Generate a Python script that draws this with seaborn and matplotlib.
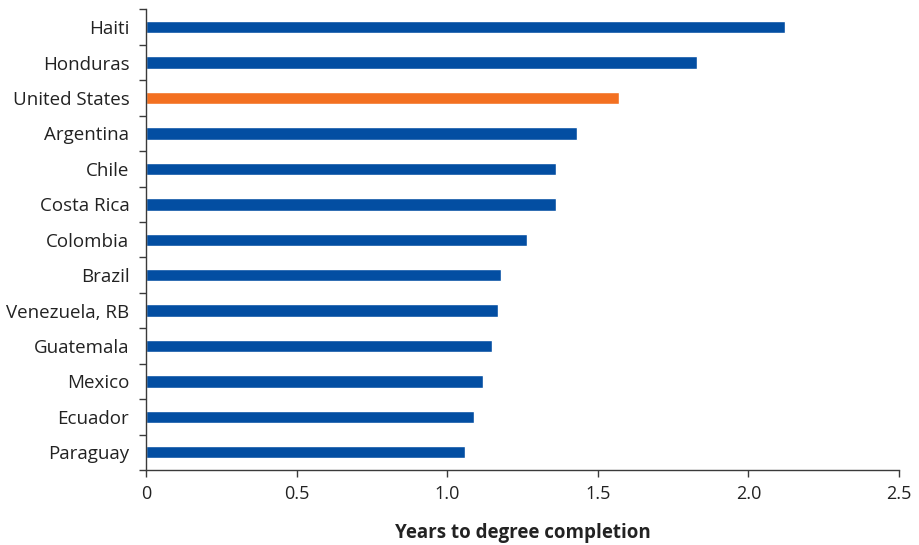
import numpy as np
import pandas as pd
import matplotlib
matplotlib.use("Agg")
import matplotlib.pyplot as plt
import seaborn as sns

countries = ["Haiti", "Honduras", "United States", "Argentina", "Chile", "Costa Rica",
             "Colombia", "Brazil", "Venezuela, RB", "Guatemala", "Mexico", "Ecuador", "Paraguay"]
years = [2.12, 1.83, 1.57, 1.43, 1.36, 1.36, 1.265, 1.18, 1.17, 1.15, 1.12, 1.09, 1.06]
highlight = "United States"
x_ticks = [0, 0.5, 1.0, 1.5, 2.0, 2.5]
x_ticklabels = ["0", "0.5", "1.0", "1.5", "2.0", "2.5"]

BLUE = "#034ea2"
ORANGE = "#f37021"
GREY = "#3a3a3a"

sns.set_theme(style="white")
plt.rcParams["font.family"] = ["Open Sans", "DejaVu Sans"]

df = pd.DataFrame({"country": countries, "years": years})
palette = {c: (ORANGE if c == highlight else BLUE) for c in countries}

fig = plt.figure(figsize=(9.19, 5.45), dpi=100)
ax = fig.add_axes([0.1589, 0.1376, 0.8193, 0.845])

sns.barplot(data=df, x="years", y="country", hue="country", palette=palette,
            order=countries, width=0.35, legend=False, orient="h", ax=ax,
            saturation=1)

ax.set_xlim(0, 2.5)
ax.set_ylim(len(countries) - 0.5, -0.5)
ax.set_xticks(x_ticks)
ax.set_xticklabels(x_ticklabels)

# category labels centred on bars, tick marks between categories
ax.set_yticks(range(len(countries)))
ax.set_yticklabels(countries)
ax.set_yticks(np.arange(-0.5, len(countries)), minor=True)
ax.tick_params(axis="y", which="major", length=0, pad=12, labelsize=13.5, labelcolor="#222222")
ax.tick_params(axis="y", which="minor", length=5, width=1, color=GREY, left=True)
ax.tick_params(axis="x", which="major", length=5, width=1, color=GREY, bottom=True,
               labelsize=13, labelcolor="#222222", pad=6)

for side in ["top", "right"]:
    ax.spines[side].set_visible(False)
for side in ["left", "bottom"]:
    ax.spines[side].set_color(GREY)
    ax.spines[side].set_linewidth(1)

ax.set_ylabel("")
ax.set_xlabel("Years to degree completion", fontsize=13.5, fontweight="bold",
              color="#222222", labelpad=14)
ax.grid(False)

fig.savefig("out.png", dpi=100)
